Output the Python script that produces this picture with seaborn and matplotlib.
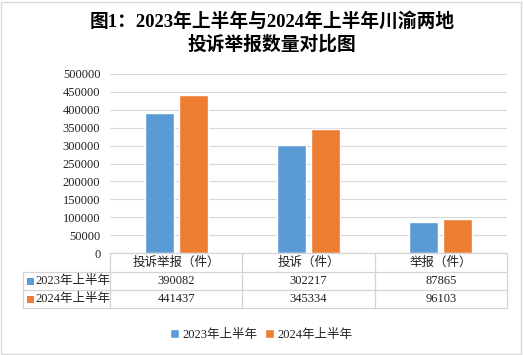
import matplotlib
matplotlib.use("Agg")
import matplotlib.pyplot as plt
import matplotlib.transforms as mtransforms
from matplotlib.lines import Line2D
from matplotlib.patches import Rectangle
import seaborn as sns
import pandas as pd

categories = ["投诉举报（件）", "投诉（件）", "举报（件）"]
series_names = ["2023年上半年", "2024年上半年"]
values_2023 = [390082, 302217, 87865]
values_2024 = [441437, 345334, 96103]
y_ticks = [0, 50000, 100000, 150000, 200000, 250000, 300000, 350000, 400000, 450000, 500000]
colors = ["#5B9BD5", "#ED7D31"]
title = "图1：2023年上半年与2024年上半年川渝两地\n投诉举报数量对比图"

sns.set_theme(style="white")
plt.rcParams["font.family"] = ["Liberation Serif", "Noto Sans CJK SC", "DejaVu Sans"]

df = pd.DataFrame({
    "category": categories * 2,
    "series": [series_names[0]] * 3 + [series_names[1]] * 3,
    "value": values_2023 + values_2024,
})

W, H = 523, 355
fig = plt.figure(figsize=(W / 100, H / 100), dpi=100)
fig.patch.set_facecolor("white")
ax = fig.add_axes([110 / W, 1 - 253 / H, 397 / W, 179 / H])

sns.barplot(data=df, x="category", y="value", hue="series", order=categories,
            hue_order=series_names, palette=colors, width=0.51, gap=0.14,
            saturation=1, ax=ax, legend=True)

ax.set_xlim(-0.5, 2.5)
ax.set_ylim(0, 500000)
ax.set_yticks(y_ticks)
ax.set_yticklabels([str(v) for v in y_ticks], fontsize=9, color="#222222")
ax.set_xticks([])
ax.set_xlabel("")
ax.set_ylabel("")
ax.tick_params(axis="y", length=0, pad=7)
for s in ax.spines.values():
    s.set_visible(False)
ax.yaxis.grid(True, color="#d9d9d9", linewidth=0.8)
ax.set_axisbelow(True)

handles, labels = ax.get_legend_handles_labels()
ax.get_legend().remove()

grid_col = "#d4d4d4"
trans = mtransforms.blended_transform_factory(ax.transData, ax.transAxes)
row_y = [0.0, -(272 - 253) / 179, -(290 - 253) / 179, -(308 - 253) / 179]
left_x_ax = (23 - 110) / 397

# horizontal table lines
ax.add_line(Line2D([0, 1], [0, 0], transform=ax.transAxes, color=grid_col, lw=0.9, clip_on=False))
for yy in row_y[1:]:
    ax.add_line(Line2D([left_x_ax, 1], [yy, yy], transform=ax.transAxes, color=grid_col, lw=0.9, clip_on=False))
# vertical table lines at category boundaries
for xb in [-0.5, 0.5, 1.5, 2.5]:
    ax.add_line(Line2D([xb, xb], [0, row_y[-1]], transform=trans, color=grid_col, lw=0.9, clip_on=False))
ax.add_line(Line2D([left_x_ax, left_x_ax], [row_y[1], row_y[-1]], transform=ax.transAxes,
                   color=grid_col, lw=0.9, clip_on=False))

# header and cells
for i, cat in enumerate(categories):
    ax.text(i, (row_y[0] + row_y[1]) / 2, cat, transform=trans, ha="center", va="center",
            fontsize=9, color="#222222")
    ax.text(i, (row_y[1] + row_y[2]) / 2, str(values_2023[i]), transform=trans, ha="center",
            va="center", fontsize=9, color="#222222")
    ax.text(i, (row_y[2] + row_y[3]) / 2, str(values_2024[i]), transform=trans, ha="center",
            va="center", fontsize=9, color="#222222")

# row labels with colour keys
for r, (name, c) in enumerate(zip(series_names, colors)):
    yc = (row_y[r + 1] + row_y[r + 2]) / 2
    sq_w = 7 / 397
    sq_h = 7 / 179
    ax.add_patch(Rectangle(((27 - 110) / 397, yc - sq_h / 2), sq_w, sq_h, transform=ax.transAxes,
                           facecolor=c, edgecolor="none", clip_on=False))
    ax.text((35 - 110) / 397, yc, name, transform=ax.transAxes, ha="left", va="center",
            fontsize=9, color="#222222")

# legend
fig.legend(handles, labels, loc="center", bbox_to_anchor=(0.5, 1 - 335 / H), ncol=2,
           frameon=False, fontsize=9, handlelength=0.7, handleheight=0.7, handletextpad=0.3,
           columnspacing=0.6, labelcolor="#222222")

# title
fig.text(0.52, 1 - 33 / H, title, ha="center", va="center", fontsize=13.5, fontweight="bold",
         color="black", linespacing=1.25)

# outer border
fig.add_artist(Rectangle((1 / W, 1 / H), (W - 3) / W, (H - 3) / H, transform=fig.transFigure,
                         facecolor="none", edgecolor="#d9d9d9", lw=1))

fig.savefig("out.png", dpi=100)
